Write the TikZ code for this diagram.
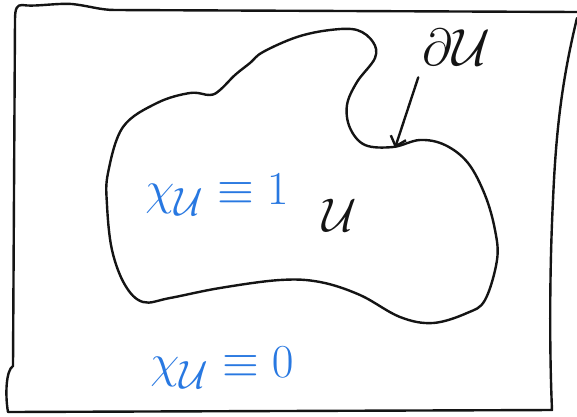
\documentclass[tikz,border=0pt]{standalone}
\usepackage{tikz}
\usetikzlibrary{arrows.meta}
\definecolor{tinta}{RGB}{20,20,20}
\definecolor{azul}{RGB}{40,120,225}

\begin{document}
\begin{tikzpicture}[x=1pt,y=-1pt,line cap=round,line join=round]
\tikzset{trazo/.style={draw=tinta,line width=2.4pt},
  etiqueta/.style={font=\Huge,inner sep=0pt},
  flecha/.style={trazo,-{Straight Barb[length=9pt,width=16pt]}}}
\fill[white] (0,0) rectangle (577,416);
\useasboundingbox (0,0) rectangle (577,416);
% marco
\draw[trazo] (577,12) -- (115,10) .. controls (100,10) and (90,6) .. (72,4)
  .. controls (55,3) and (35,7) .. (22,5) .. controls (17,5) and (15,8) .. (15,20)
  -- (13,366) .. controls (6,370) and (5,395) .. (8,412) -- (552,410)
  .. controls (549,340) and (550,260) .. (553,200)
  .. controls (556,130) and (562,80) .. (577,18);
% conjunto U
\draw[trazo] plot[smooth cycle,tension=0.6] coordinates {
  (250,63) (263,52) (297,37) (330,30) (357,30) (373,42) (375,58) (357,82)
  (347,105) (350,128) (365,145) (393,147) (420,140) (445,145) (468,163)
  (485,195) (495,230) (497,260) (485,300) (467,313) (433,323) (400,317)
  (360,295) (320,282) (280,280) (220,288) (170,298) (143,302) (125,285)
  (112,250) (107,205) (108,173) (123,127) (157,103) (190,93) (210,95)
  (220,90) (235,75)};
% etiquetas
\node[etiqueta,text=azul,scale=1.9] (chiuno) at (217,195) {$\chi_{\mathcal U}\equiv 1$};
\node[etiqueta,text=azul,scale=1.9] (chicero) at (222,368) {$\chi_{\mathcal U}\equiv 0$};
\node[etiqueta,text=tinta,scale=1.9] (U) at (340,215) {$\mathcal U$};
\node[etiqueta,text=tinta,scale=2.1,anchor=south west] (dU) at (422,66) {$\partial\mathcal U$};
\coordinate (punta) at (395,148);
\draw[flecha,shorten <=12pt] (dU.south west) -- (punta);
\end{tikzpicture}
\end{document}
